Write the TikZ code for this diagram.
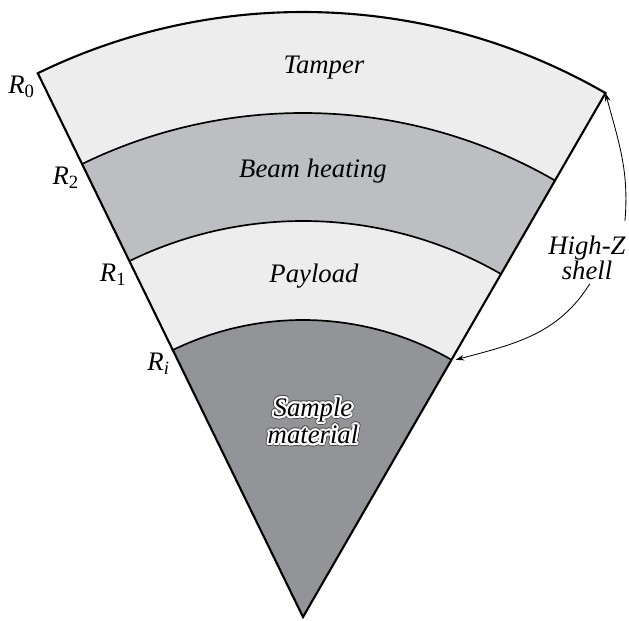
\documentclass[tikz,border=0pt]{standalone}
\usepackage{fontspec}
\setmainfont{Liberation Serif}
\usepackage{xcolor}
\definecolor{shelllight}{RGB}{237,237,237}
\definecolor{beamgray}{RGB}{189,190,194}
\definecolor{samplegray}{RGB}{147,148,152}
\usetikzlibrary{arrows.meta,positioning,calc}

\begin{document}
\begin{tikzpicture}[
        layertext/.style={font=\fontsize{19}{19.5}\selectfont\itshape, align=center},
        rlabel/.style={anchor=north east, inner sep=2pt,
                       font=\fontsize{19}{20}\selectfont},
        arr/.style={-{Stealth[length=6pt,width=4pt]}, line width=0.6pt}
      ]
        \useasboundingbox (-7.575,-0.1) rectangle (8.15,15.425);

        % Layers, outer to inner
        \foreach \r/\c in {15.125/shelllight, 12.6/beamgray, 9.9/shelllight, 7.425/samplegray}
          \fill[\c] (0,0) -- (60:\r) arc[start angle=60, end angle=116, radius=\r] -- cycle;

        \coordinate (apex) at (0,0);
        \coordinate (r0l) at (116:15.125);
        \coordinate (r0r) at (60:15.125);
        \coordinate (r2l) at (116:12.6);
        \coordinate (r1l) at (116:9.9);
        \coordinate (ril) at (116:7.425);
        \coordinate (rir) at (60:7.425);

        % Interfaces
        \foreach \r in {12.6, 9.9, 7.425}
          \draw[line width=1.2pt] (60:\r) arc[start angle=60, end angle=116, radius=\r];
        \draw[line width=1.5pt, line join=miter] (r0r) arc[start angle=60, end angle=116, radius=15.125]
          -- (apex) -- cycle;

        % Layer names
        \node[layertext] (tamp) at (0.525,13.725) {Tamper};
        \node[layertext] (beam) at (0.25,11.15) {Beam heating};
        \node[layertext] (pay)  at (0.275,8.525) {Payload};
        \foreach \a in {0,20,...,340}
          \node[layertext, black!70, shift={(\a:2.1pt)}] at (0.25,4.9) {Sample\\material};
        \foreach \a in {0,20,...,340}
          \node[layertext, white, shift={(\a:1.5pt)}] at (0.25,4.9) {Sample\\material};
        \node[layertext] (smp) at (0.25,4.9) {Sample\\material};

        % Radii
        \node[rlabel] (lr0) at (r0l) {\textit{R}\textsubscript{0}};
        \node[rlabel] (lr2) at (r2l) {\textit{R}\textsubscript{2}};
        \node[rlabel] (lr1) at (r1l) {\textit{R}\textsubscript{1}};
        \node[rlabel] (lri) at (ril) {\textit{R}\textsubscript{\textit{i}}};

        % Shell
        \node[font=\fontsize{19}{16}\selectfont\itshape, align=center] (hz) at (7.1,8.975) {High-Z\\shell};
        \draw[arr] ([xshift=-4pt,yshift=7pt]hz.north east) to[out=85, in=-75] (r0r);
        \draw[arr] ([xshift=2pt,yshift=1pt]hz.south) to[out=-122, in=15] ([xshift=3pt]rir);
      \end{tikzpicture}
\end{document}
